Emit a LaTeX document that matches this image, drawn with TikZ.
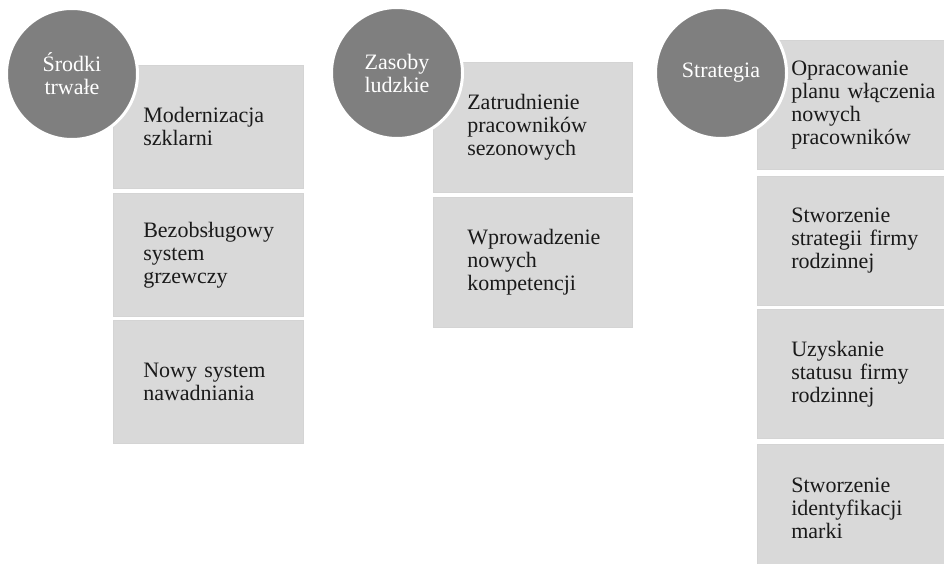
\documentclass[tikz,border=0pt]{standalone}
\usepackage{fontspec}
\setmainfont{Liberation Serif}
\definecolor{boxgray}{HTML}{D9D9D9}
\definecolor{circlegray}{HTML}{7F7F7F}
\definecolor{boxtext}{HTML}{1A1A1A}
\begin{document}
\begin{tikzpicture}[
 x=1pt, y=-1pt,
 font=\rmfamily\fontsize{22}{23}\selectfont,
 item/.style={draw=black!17,line width=0.6pt,fill=boxgray,rectangle,anchor=north west,align=left,text=boxtext,inner ysep=0pt},
 itemA/.style={item,minimum width=190pt,text width=130pt,inner xsep=30pt,minimum height=123pt},
 itemB/.style={item,minimum width=199pt,text width=131pt,inner xsep=34pt,minimum height=130pt},
 itemC/.style={item,minimum width=200pt,text width=132pt,inner xsep=34pt,minimum height=129pt},
 topic/.style={draw=white,line width=3pt,fill=circlegray,circle,minimum size=131pt,inner sep=0pt,text=white,align=center}
]
\useasboundingbox (0,0) rectangle (944,564);
% Srodki trwale
\node (srodki-box1) [itemA] at (113,65) {Modernizacja\\szklarni};
\node (srodki-box2) [itemA] at (113,193) {Bezobsługowy\\system\\grzewczy};
\node (srodki-box3) [itemA] at (113,320) {Nowy~system\\nawadniania};
\node (srodki-circle) [topic] at (72,74) {Środki\\trwałe};
% Zasoby ludzkie
\node (zasoby-box1) [itemB] at (433,62) {Zatrudnienie\\pracowników\\sezonowych};
\node (zasoby-box2) [itemB] at (433,197) {Wprowadzenie\\nowych\\kompetencji};
\node (zasoby-circle) [topic] at (397,73) {Zasoby\\ludzkie};
% Strategia
\node (strategia-box1) [itemC] at (757,40) {Opracowanie\\planu~włączenia\\nowych\\pracowników};
\node (strategia-box2) [itemC] at (757,176) {Stworzenie\\strategii~firmy\\rodzinnej};
\node (strategia-box3) [itemC] at (757,309) {Uzyskanie\\statusu~firmy\\rodzinnej};
\node (strategia-box4) [itemC] at (757,444) {Stworzenie\\identyfikacji\\marki};
\node (strategia-circle) [topic] at (721,73) {Strategia};
\end{tikzpicture}
\end{document}
